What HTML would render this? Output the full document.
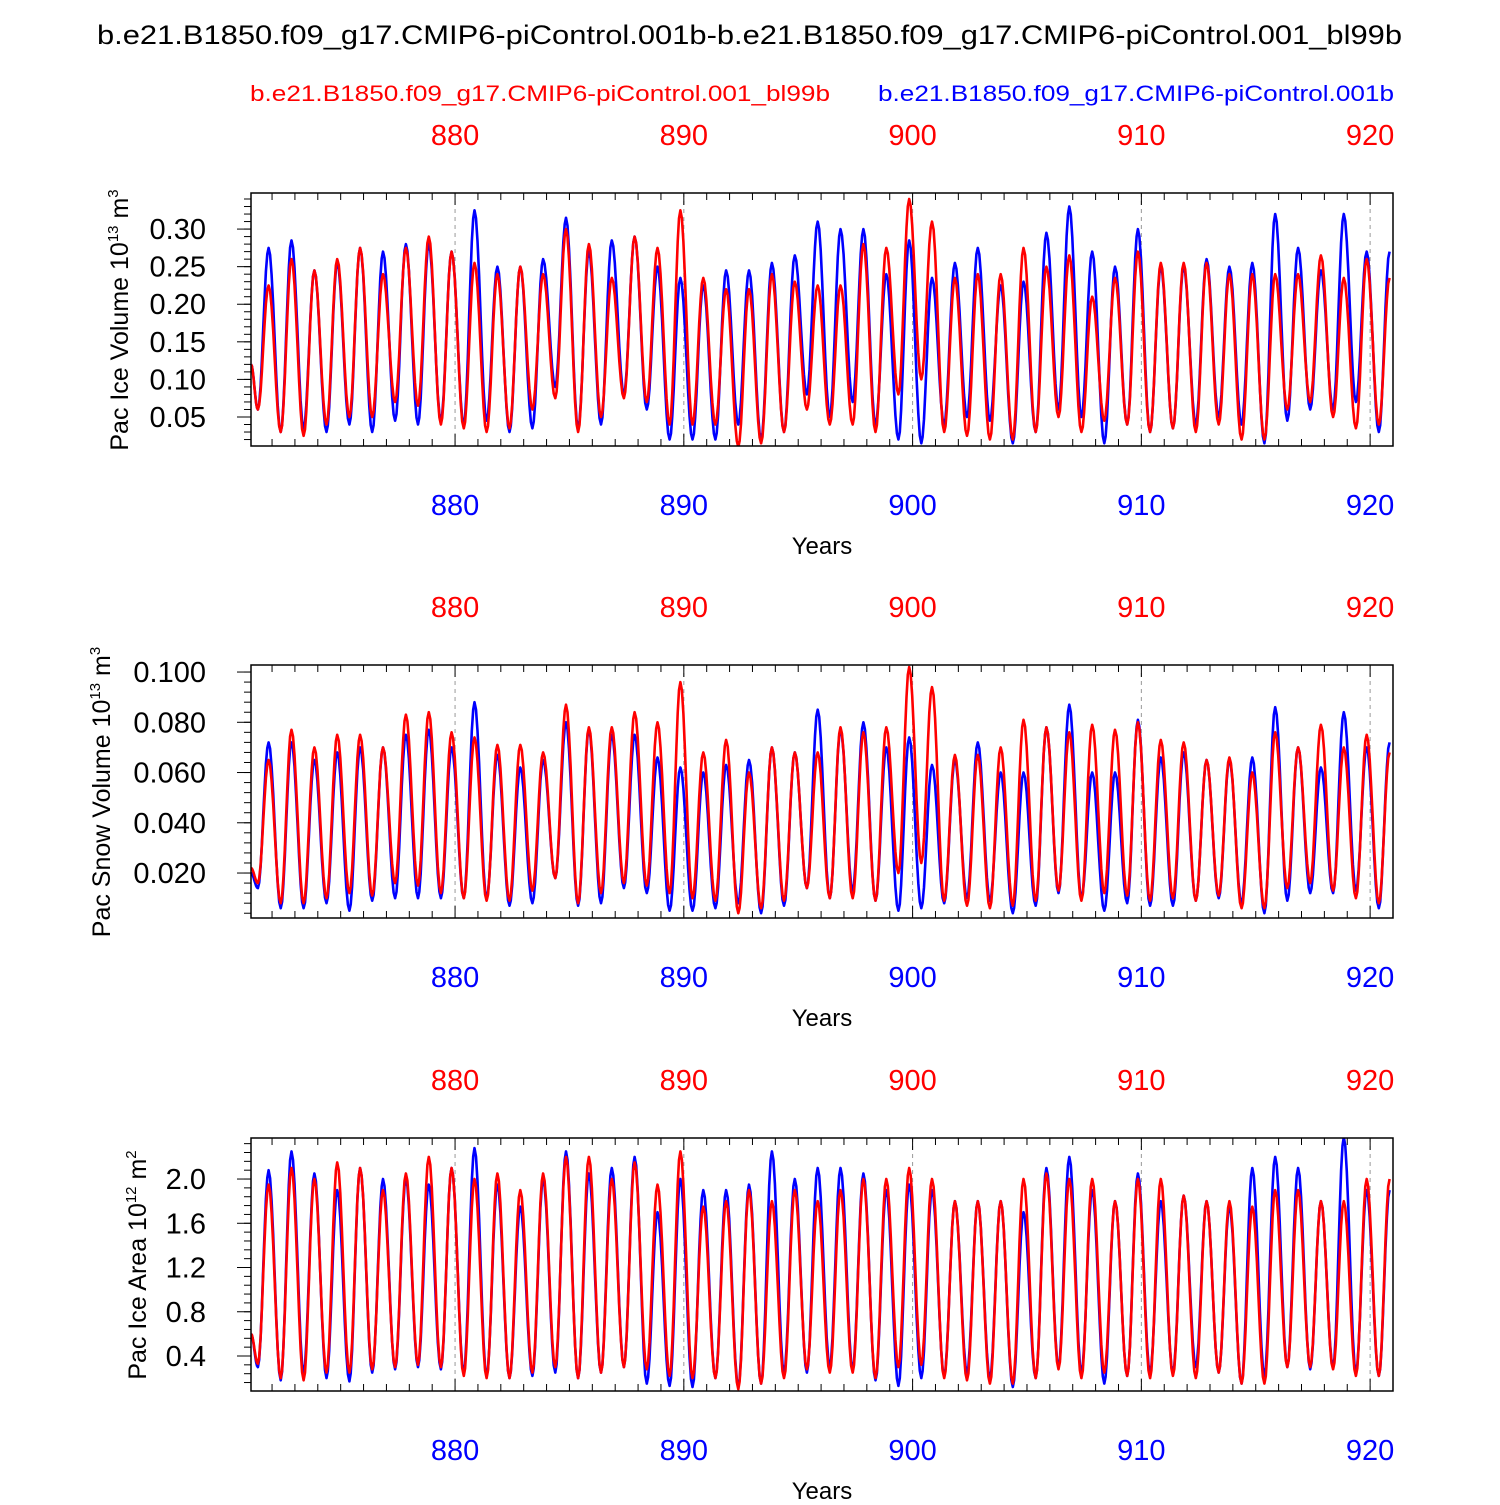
<!DOCTYPE html>
<html><head><meta charset="utf-8"><style>
body{margin:0;background:#fff;}
svg text{font-family:"Liberation Sans",sans-serif;}
</style></head><body>
<svg id="c" width="1500" height="1500" xmlns="http://www.w3.org/2000/svg">
<text x="97" y="44" font-size="27" textLength="1305" lengthAdjust="spacingAndGlyphs">b.e21.B1850.f09_g17.CMIP6-piControl.001b-b.e21.B1850.f09_g17.CMIP6-piControl.001_bl99b</text>
<text x="250" y="101" font-size="22" fill="#f00" textLength="580" lengthAdjust="spacingAndGlyphs">b.e21.B1850.f09_g17.CMIP6-piControl.001_bl99b</text>
<text x="878" y="101" font-size="22" fill="#00f" textLength="516" lengthAdjust="spacingAndGlyphs">b.e21.B1850.f09_g17.CMIP6-piControl.001b</text>
</svg>
<script>
const years=[];for(let y=871;y<=920;y++)years.push(y);
const xTicks=[880,890,900,910,920];
// Panel 1: ice volume
const iceVolBlueMax=[0.275,0.285,0.245,0.255,0.275,0.27,0.28,0.28,0.27,0.325,0.25,0.25,0.26,0.315,0.27,0.285,0.29,0.25,0.235,0.225,0.245,0.245,0.255,0.265,0.31,0.3,0.3,0.24,0.285,0.235,0.255,0.275,0.225,0.23,0.295,0.33,0.27,0.25,0.3,0.25,0.25,0.26,0.25,0.255,0.32,0.275,0.245,0.32,0.27,0.27];
const iceVolBlueMin=[0.06,0.03,0.035,0.03,0.04,0.03,0.045,0.04,0.045,0.04,0.045,0.03,0.035,0.09,0.035,0.04,0.08,0.06,0.02,0.02,0.02,0.04,0.02,0.03,0.08,0.05,0.07,0.04,0.02,0.015,0.04,0.05,0.045,0.015,0.03,0.06,0.05,0.015,0.04,0.03,0.035,0.04,0.05,0.04,0.015,0.045,0.06,0.06,0.07,0.03];
const iceVolRedMax=[0.225,0.26,0.245,0.26,0.275,0.24,0.275,0.29,0.27,0.255,0.24,0.25,0.24,0.3,0.28,0.235,0.29,0.275,0.325,0.235,0.22,0.22,0.24,0.23,0.225,0.225,0.28,0.275,0.34,0.31,0.235,0.24,0.24,0.275,0.25,0.265,0.21,0.235,0.27,0.255,0.255,0.255,0.24,0.24,0.24,0.24,0.265,0.235,0.26,0.235];
const iceVolRedMin=[0.06,0.03,0.025,0.04,0.05,0.05,0.07,0.065,0.04,0.035,0.03,0.035,0.06,0.075,0.03,0.05,0.075,0.07,0.04,0.04,0.04,0.01,0.015,0.03,0.06,0.04,0.04,0.03,0.08,0.1,0.03,0.025,0.02,0.02,0.03,0.05,0.03,0.045,0.04,0.03,0.035,0.03,0.04,0.02,0.02,0.06,0.07,0.05,0.035,0.04];
// Panel 2: snow volume
const snowBlueMax=[0.072,0.072,0.065,0.068,0.07,0.07,0.075,0.077,0.07,0.088,0.067,0.062,0.065,0.08,0.077,0.075,0.075,0.066,0.062,0.06,0.063,0.065,0.07,0.068,0.085,0.077,0.08,0.07,0.074,0.063,0.065,0.072,0.06,0.06,0.078,0.087,0.06,0.06,0.081,0.066,0.068,0.065,0.065,0.066,0.086,0.07,0.062,0.084,0.07,0.072];
const snowBlueMin=[0.014,0.006,0.006,0.008,0.005,0.009,0.01,0.01,0.01,0.01,0.01,0.007,0.008,0.018,0.007,0.008,0.014,0.012,0.005,0.005,0.006,0.008,0.004,0.007,0.014,0.01,0.013,0.009,0.005,0.006,0.008,0.01,0.009,0.004,0.007,0.012,0.01,0.005,0.008,0.007,0.007,0.009,0.01,0.008,0.004,0.009,0.012,0.012,0.013,0.006];
const snowRedMax=[0.065,0.077,0.07,0.075,0.075,0.07,0.083,0.084,0.076,0.074,0.071,0.071,0.068,0.087,0.078,0.078,0.084,0.08,0.096,0.068,0.073,0.06,0.07,0.068,0.068,0.078,0.076,0.078,0.102,0.094,0.067,0.067,0.07,0.081,0.078,0.076,0.079,0.077,0.08,0.073,0.072,0.065,0.066,0.06,0.076,0.07,0.079,0.07,0.075,0.068];
const snowRedMin=[0.016,0.008,0.008,0.01,0.012,0.011,0.016,0.015,0.012,0.01,0.009,0.009,0.013,0.018,0.008,0.012,0.016,0.015,0.012,0.01,0.009,0.004,0.006,0.009,0.014,0.01,0.01,0.009,0.02,0.024,0.009,0.007,0.006,0.007,0.009,0.013,0.009,0.012,0.011,0.009,0.01,0.009,0.011,0.006,0.006,0.014,0.016,0.013,0.01,0.008];
// Panel 3: ice area
const areaBlueMax=[2.08,2.25,2.05,1.9,2.1,2.0,2.0,1.95,2.1,2.28,1.95,1.75,2.0,2.25,2.05,2.1,2.2,1.7,2.0,1.9,1.9,1.95,2.25,2.0,2.1,2.1,2.05,1.9,1.95,1.9,1.8,1.8,1.8,1.7,2.1,2.2,1.9,1.8,2.05,1.8,1.85,1.8,1.75,2.1,2.2,2.1,1.8,2.38,1.9,1.9];
const areaBlueMin=[0.3,0.18,0.25,0.2,0.17,0.25,0.28,0.3,0.28,0.25,0.22,0.2,0.22,0.25,0.2,0.25,0.3,0.15,0.13,0.12,0.2,0.12,0.15,0.25,0.25,0.3,0.28,0.18,0.13,0.2,0.22,0.25,0.2,0.12,0.2,0.3,0.25,0.15,0.22,0.25,0.25,0.3,0.25,0.15,0.22,0.3,0.28,0.3,0.25,0.22];
const areaRedMax=[1.95,2.1,2.0,2.15,2.1,1.9,2.05,2.2,2.1,2.0,2.05,1.9,2.05,2.2,2.2,2.0,2.15,1.95,2.25,1.75,1.8,1.9,1.8,1.9,1.8,1.9,2.0,2.0,2.1,2.0,1.8,1.8,1.8,2.0,2.05,2.0,2.0,1.8,2.0,2.0,1.85,1.8,1.8,1.75,1.9,1.9,1.8,1.8,2.0,2.0];
const areaRedMin=[0.33,0.2,0.18,0.25,0.25,0.28,0.3,0.32,0.3,0.22,0.2,0.2,0.25,0.3,0.2,0.25,0.3,0.28,0.22,0.2,0.2,0.1,0.15,0.2,0.28,0.25,0.25,0.2,0.3,0.32,0.2,0.18,0.15,0.15,0.2,0.28,0.2,0.25,0.22,0.2,0.22,0.2,0.25,0.15,0.15,0.3,0.3,0.28,0.22,0.22];

const NS='http://www.w3.org/2000/svg';
const svg=document.getElementById('c');
function el(t,a,p){const e=document.createElementNS(NS,t);for(const k in a)e.setAttribute(k,a[k]);(p||svg).appendChild(e);return e;}
const X0=251,X1=1393,T0=871.08,T1=921.0;
const xs=v=>X0+(v-T0)/(T1-T0)*(X1-X0);

const panels=[
 {top:193,vmin:0.0114,vmax:0.348,major:[0.05,0.10,0.15,0.20,0.25,0.30],fmt:2,minorStep:0.01,
  title:'Pac Ice Volume 10',sup:'13',unit:' m',usup:'3',tx:128,
  blue:[iceVolBlueMax,iceVolBlueMin],red:[iceVolRedMax,iceVolRedMin],start:0.12,startR:0.12},
 {top:665,vmin:0.0021,vmax:0.1028,major:[0.02,0.04,0.06,0.08,0.1],fmt:3,minorStep:0.004,
  title:'Pac Snow Volume 10',sup:'13',unit:' m',usup:'3',tx:110,
  blue:[snowBlueMax,snowBlueMin],red:[snowRedMax,snowRedMin],start:0.02,startR:0.022},
 {top:1138,vmin:0.0835,vmax:2.371,major:[0.4,0.8,1.2,1.6,2.0],fmt:1,minorStep:0.08,
  title:'Pac Ice Area 10',sup:'12',unit:' m',usup:'2',tx:146,
  blue:[areaBlueMax,areaBlueMin],red:[areaRedMax,areaRedMin],start:0.6,startR:0.6}
];
panels.forEach((p,pi)=>{
 const top=p.top,bot=top+253,H=253;
 const ys=v=>bot-(v-p.vmin)/(p.vmax-p.vmin)*H;
 const g=el('g',{});
 
 
 xTicks.forEach(t=>{const l=el('line',{x1:xs(t),x2:xs(t),y1:top,y2:bot,stroke:'#999','stroke-dasharray':'4,4','stroke-width':1},g);
  });
 const clipId='clip'+pi;
 const cp=el('clipPath',{id:clipId},g);el('rect',{x:X0,y:top,width:X1-X0,height:H},cp);
 [['blue','#00f',p.start],['red','#f00',p.startR]].forEach(([s,col,st])=>{
  const mx=p[s][0],mn=p[s][1];
  const keys=[[T0,st]];
  years.forEach((y,i)=>{keys.push([y+0.38,mn[i]]);keys.push([y+0.85,mx[i]]);});
  let d='';
  for(let k=0;k<keys.length-1;k++){
   const [a,va]=keys[k],[b,vb]=keys[k+1];
   for(let j=0;j<8;j++){const f=j/8,tt=a+(b-a)*f,v=va+(vb-va)*(1-Math.cos(Math.PI*f))/2;
    d+=(d?'L':'M')+xs(tt).toFixed(1)+','+ys(v).toFixed(1);}
  }
  const last=keys[keys.length-1];d+='L'+xs(last[0]).toFixed(1)+','+ys(last[1]).toFixed(1);
  const path=el('path',{d:d,fill:'none',stroke:col,'stroke-width':2.6,'stroke-linejoin':'round','clip-path':'url(#'+clipId+')'},g);
  
  
 });
 const box=el('rect',{x:X0,y:top,width:X1-X0,height:H,fill:'none',stroke:'#000','stroke-width':1.5},g);
 
 for(let y=872;y<=921;y++){const maj=y%10===0,len=maj?12:7;
  el('line',{x1:xs(y),x2:xs(y),y1:top,y2:top+len,stroke:'#000'},g);
  el('line',{x1:xs(y),x2:xs(y),y1:bot,y2:bot-len,stroke:'#000'},g);}
 xTicks.forEach(t=>{
  const a=el('text',{x:xs(t),y:top-48,'text-anchor':'middle','font-size':29,fill:'#f00'},g);a.textContent=t;
  
  const b=el('text',{x:xs(t),y:bot+69,'text-anchor':'middle','font-size':29,fill:'#00f'},g);b.textContent=t;
  
 });
 const xt=el('text',{x:822,y:bot+108,'text-anchor':'middle','font-size':24},g);xt.textContent='Years';
 
 for(let v=Math.ceil(p.vmin/p.minorStep)*p.minorStep;v<=p.vmax;v+=p.minorStep){
  el('line',{x1:X0,x2:X0-7,y1:ys(v),y2:ys(v),stroke:'#000'},g);}
 p.major.forEach(v=>{
  el('line',{x1:X0,x2:X0-14,y1:ys(v),y2:ys(v),stroke:'#000'},g);
  const t=el('text',{x:X0-45,y:ys(v)+10,'text-anchor':'end','font-size':29},g);t.textContent=v.toFixed(p.fmt);
  
 });
 const yt=el('text',{transform:`translate(${p.tx},${top+127}) rotate(-90)`,'text-anchor':'middle','font-size':25},g);
 
 yt.appendChild(document.createTextNode(p.title));
 el('tspan',{dy:-10,'font-size':15},yt).textContent=p.sup;
 el('tspan',{dy:10},yt).textContent=p.unit;
 el('tspan',{dy:-10,'font-size':15},yt).textContent=p.usup;
});
</script>
</body></html>
